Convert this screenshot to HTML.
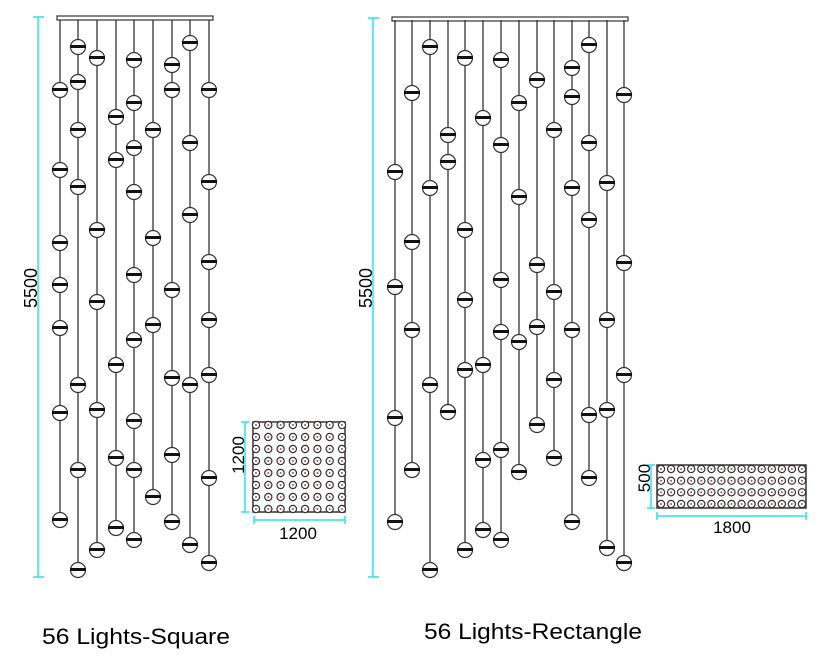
<!DOCTYPE html><html><head><style>body{margin:0;background:#fff;width:818px;height:672px;overflow:hidden}svg{display:block}</style></head><body>
<svg id="s" width="818" height="672" xmlns="http://www.w3.org/2000/svg" font-family="Liberation Sans, sans-serif">
<rect x="57" y="16" width="156" height="4" fill="#fff" stroke="#333" stroke-width="1.2"/>
<rect x="392" y="17" width="236" height="4" fill="#fff" stroke="#333" stroke-width="1.2"/>
<g stroke="#2ee0ee" stroke-width="1.5" fill="none">
<line x1="38" y1="17" x2="38" y2="577"/><line x1="33" y1="17" x2="44" y2="17"/><line x1="33" y1="577" x2="44" y2="577"/>
<line x1="373" y1="18" x2="373" y2="577"/><line x1="368" y1="18" x2="379" y2="18"/><line x1="368" y1="577" x2="379" y2="577"/>
<line x1="245" y1="422" x2="245" y2="512"/><line x1="241" y1="422" x2="249" y2="422"/><line x1="241" y1="512" x2="249" y2="512"/>
<line x1="254" y1="520" x2="345" y2="520"/><line x1="254" y1="516" x2="254" y2="524"/><line x1="345" y1="516" x2="345" y2="524"/>
<line x1="651" y1="465" x2="651" y2="508"/><line x1="647" y1="465" x2="655" y2="465"/><line x1="647" y1="508" x2="655" y2="508"/>
<line x1="657" y1="516" x2="806" y2="516"/><line x1="657" y1="512" x2="657" y2="520"/><line x1="806" y1="512" x2="806" y2="520"/>
</g>
<text transform="translate(37,288) rotate(-90)" font-size="18" text-anchor="middle">5500</text>
<text transform="translate(372,288) rotate(-90)" font-size="18" text-anchor="middle">5500</text>
<text transform="translate(244,455) rotate(-90)" font-size="17" text-anchor="middle">1200</text>
<text x="298" y="539" font-size="17" text-anchor="middle">1200</text>
<text transform="translate(650,478) rotate(-90)" font-size="17" text-anchor="middle">500</text>
<text x="732" y="533" font-size="17" text-anchor="middle">1800</text>
<text x="42" y="644" font-size="22" textLength="188" lengthAdjust="spacingAndGlyphs">56 Lights-Square</text>
<text x="424" y="639" font-size="22" textLength="218" lengthAdjust="spacingAndGlyphs">56 Lights-Rectangle</text>
<rect x="253" y="422" width="92" height="90" fill="none" stroke="#333" stroke-width="1.5"/>
<rect x="657" y="465" width="149" height="43" fill="none" stroke="#333" stroke-width="1.5"/>
<g id="g"></g>
</svg>
<script>
var g=document.getElementById('g'),h='';
function ch(wires){wires.forEach(function(w){var x=w[0],b=w[1],end=b[b.length-1];
h+='<line x1="'+x+'" y1="20" x2="'+x+'" y2="'+end+'" stroke="#333" stroke-width="1.3"/>';
b.forEach(function(y){h+='<circle cx="'+x+'" cy="'+y+'" r="7.5" fill="#fff" stroke="#333" stroke-width="1.2"/><rect x="'+(x-8)+'" y="'+(y-2)+'" width="16" height="3" fill="#111"/>';});});}
ch([[60,[90,170,243,285,328,413,520]],[78,[47,82,130,187,385,470,570]],[97,[58,230,302,410,550]],[116,[117,160,365,458,528]],[134,[60,103,148,192,275,340,421,470,540]],[153,[130,238,325,497]],[172,[65,90,290,378,455,522]],[190,[43,143,215,385,545]],[209,[90,182,262,320,375,478,563]]]);
ch([[395,[172,287,418,522]],[412,[93,242,330,470]],[430,[47,188,385,570]],[448,[135,162,412]],[465,[58,230,300,370,550]],[483,[118,365,460,530]],[501,[60,145,280,332,450,540]],[519,[103,197,342,472]],[537,[80,265,327,425]],[554,[130,292,380,458]],[572,[68,97,188,330,522]],[589,[45,143,220,415,478]],[607,[183,320,410,548]],[624,[95,263,375,563]]]);
function grid(x0,y0,w,hh,nx,ny){for(var i=0;i<nx;i++)for(var j=0;j<ny;j++){var x=x0+w*i/(nx-1),y=y0+hh*j/(ny-1);
h+='<circle cx="'+x.toFixed(1)+'" cy="'+y.toFixed(1)+'" r="3.6" fill="#fff" stroke="#333" stroke-width="1.2"/><circle cx="'+x.toFixed(1)+'" cy="'+y.toFixed(1)+'" r="1" fill="#c44"/>';}}
grid(256,425,86,84,8,8);
grid(661,469,141,35,15,4);
g.innerHTML=h;
</script>
</body></html>
